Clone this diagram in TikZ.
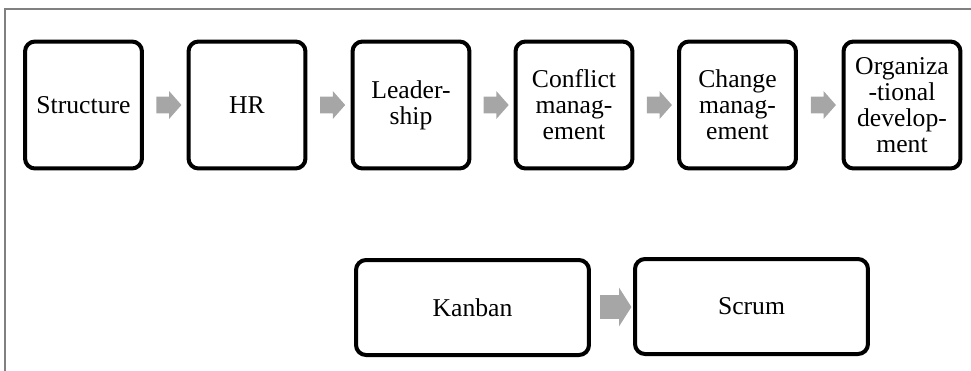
\documentclass[tikz,border=0pt]{standalone}
\usepackage{fontspec}
\setmainfont{Liberation Serif}
\usetikzlibrary{shapes.arrows,calc}

\definecolor{arrowgray}{RGB}{166,166,166}
\definecolor{framegray}{RGB}{128,128,128}

\tikzset{
		stage/.style={draw, line width=0.08cm, rounded corners=0.2cm, align=center, minimum width=2.34cm, minimum height=2.54cm, inner sep=0pt, font=\fontsize{14.6}{14.8}\selectfont},
		wide/.style={stage, minimum width=4.66cm, minimum height=1.9cm},
		flow/.style={single arrow, draw=none, fill=arrowgray, inner sep=0.16cm, minimum width=0.54cm, minimum height=0.5cm, single arrow head extend=0.11cm, single arrow tip angle=97},
		bigflow/.style={flow, inner sep=0.23cm, minimum width=0.76cm, minimum height=0.52cm, single arrow head extend=0.15cm, single arrow tip angle=115}
	}

\begin{document}
\begin{tikzpicture}[x=0.02cm, y=-0.02cm]

\useasboundingbox (0,0) rectangle (971,370);
\draw [framegray, line width=0.03cm] (5,371) -- (5,9) -- (972,9);

\node (struct) at (83.5,105) [stage] {Structure};
\node (hr) at (247,105) [stage] {HR};
\node (lead) at (411,105) [stage] {Leader-\\ship};
\node (conf) at (574,105) [stage] {Conflict\\manag-\\ement};
\node (change) at (737.5,105) [stage] {Change\\manag-\\ement};
\node (org) at (902,105) [stage] {Organiza\\-tional\\develop-\\ment};

\node (kanban) at (472.5,307.5) [wide] {Kanban};
\node (scrum) at (751.5,306.5) [wide] {Scrum};


\node (a1) at ($(struct.east)!0.5!(hr.west)$) [flow] {};
\node (a2) at ($(hr.east)!0.5!(lead.west)$) [flow] {};
\node (a3) at ($(lead.east)!0.5!(conf.west)$) [flow] {};
\node (a4) at ($(conf.east)!0.5!(change.west)$) [flow] {};
\node (a5) at ($(change.east)!0.5!(org.west)$) [flow] {};

\node (a6) at ($(kanban.east)!0.5!(scrum.west)$) [bigflow] {};

\end{tikzpicture}
\end{document}
